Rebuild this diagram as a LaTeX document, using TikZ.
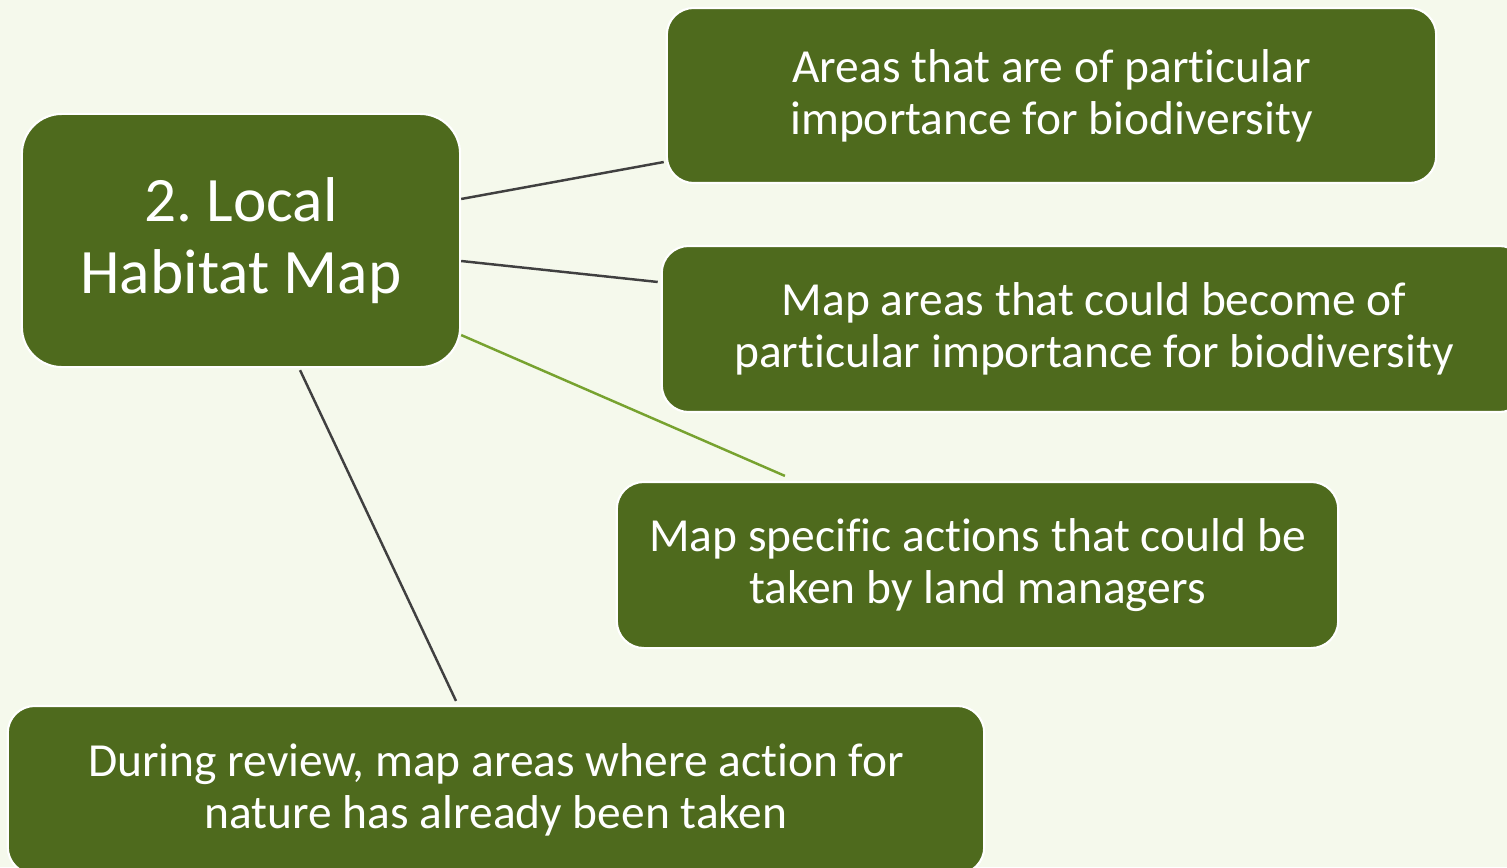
\documentclass[tikz,border=0pt]{standalone}
\usepackage{fontspec}
\setmainfont[Ligatures=NoCommon]{Carlito}
\frenchspacing
\definecolor{pagebg}{HTML}{F5F9EC}
\definecolor{boxgreen}{HTML}{4E6A1D}
\definecolor{linkgray}{HTML}{404040}
\definecolor{linkgreen}{HTML}{77A22F}
\begin{document}
\begin{tikzpicture}[x=0.01cm,y=-0.01cm]
\tikzstyle{every node}+=[inner sep=0pt]
\tikzstyle{leaf}=[draw=white,line width=0.6pt,fill=boxgreen,rounded corners=0.27cm,
  text=white,align=center,font=\fontsize{13.5}{14.8}\selectfont]
\tikzstyle{hub}=[leaf,rounded corners=0.4cm,font=\fontsize{18}{20.5}\selectfont]
\tikzstyle{link}=[linkgray,line width=0.7pt]
\clip (0,0) rectangle (1507,867);
\fill[pagebg] (0,0) rectangle (1507,867);
\node[hub,minimum width=4.38cm,minimum height=2.53cm] (habitat) at (241,240.5) {2. Local\\Habitat Map};
\node[leaf,minimum width=7.69cm,minimum height=1.75cm] (areas) at (1051.5,95.5) {Areas that are of particular\\importance for biodiversity};
\node[leaf,minimum width=8.64cm,minimum height=1.66cm] (become) at (1094,329) {Map areas that could become of\\particular importance for biodiversity};
\node[leaf,minimum width=7.21cm,minimum height=1.66cm] (actions) at (977.5,565) {Map specific actions that could be\\taken by land managers};
\node[leaf,minimum width=9.76cm,minimum height=1.68cm] (review) at (496,790) {During review, map areas where action for\\nature has already been taken};
\draw[link] ([yshift=0.415cm]habitat.east) -- ([yshift=-0.665cm,xshift=-0.02cm]areas.west);
\draw[link] ([yshift=-0.205cm]habitat.east) -- ([yshift=0.47cm,xshift=-0.03cm]become.west);
\draw[link,linkgreen] ([yshift=-0.945cm]habitat.east) -- ([xshift=-1.925cm,yshift=0.05cm]actions.north);
\draw[link] ([xshift=0.59cm,yshift=-0.02cm]habitat.south) -- ([xshift=-0.4cm,yshift=0.04cm]review.north);
\end{tikzpicture}
\end{document}
